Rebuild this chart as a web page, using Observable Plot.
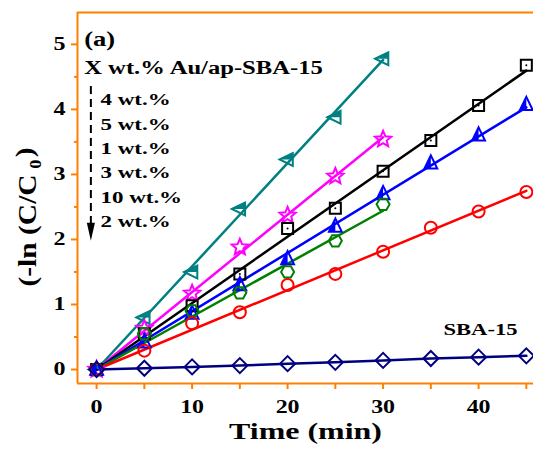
<!DOCTYPE html>
<html>
<head>
<meta charset="utf-8">
<script src="https://cdn.jsdelivr.net/npm/d3@7"></script>
<script src="https://cdn.jsdelivr.net/npm/@observablehq/plot@0.6"></script>
<style>
  body { margin: 0; background: white; }
</style>
</head>
<body>
<div id="chart"></div>
<script>
// ---- data ----
const times = [0, 5, 10, 15, 20, 25, 30, 35, 40, 45];
const y4wt  = [0, 0.80, 1.50, 2.47, 3.23, 3.88, 4.78];
const y5wt  = [0, 0.63, 1.17, 1.88, 2.37, 2.97, 3.54];
const y1wt  = [0, 0.55, 0.98, 1.47, 2.17, 2.48, 3.05, 3.52, 4.06, 4.68];
const y3wt  = [0, 0.42, 0.86, 1.30, 1.70, 2.20, 2.70, 3.17, 3.60, 4.07];
const y10wt = [0, 0.55, 0.90, 1.18, 1.50, 1.98, 2.54];
const y2wt  = [0, 0.29, 0.71, 0.88, 1.30, 1.47, 1.81, 2.18, 2.43, 2.73];
const ySBA  = [0, 0.02, 0.04, 0.06, 0.09, 0.11, 0.14, 0.17, 0.19, 0.21];
const legendLabels = ["4 wt.%", "5 wt.%", "1 wt.%", "3 wt.%", "10 wt.%", "2 wt.%"];
const xTicks = [0, 5, 10, 15, 20, 25, 30, 35, 40, 45];
const yTicks = [0, 1, 2, 3, 4, 5];
const yMinor = [0.5, 1.5, 2.5, 3.5, 4.5];

// ---- styling / layout ----
const orange = "#ff8000";
const xDomain = [-2, 45.75];
const yDomain = [-0.215, 5.49];
const font = "'Liberation Serif', 'Times New Roman', serif";

const sym = fn => ({draw(ctx, size) { const r = Math.sqrt(size / Math.PI); fn(ctx, r); }});
const poly = (ctx, pts) => { ctx.moveTo(pts[0][0], pts[0][1]); for (const p of pts.slice(1)) ctx.lineTo(p[0], p[1]); ctx.closePath(); };
const squareSym = sym((c, r) => poly(c, [[-r,-r],[r,-r],[r,r],[-r,r]]));
const diamondSym = sym((c, r) => poly(c, [[0,-r],[r,0],[0,r],[-r,0]]));
const upTri = sym((c, r) => poly(c, [[0,-r],[0.8*r,0.65*r],[-0.8*r,0.65*r]]));
const upTriHalf = sym((c, r) => poly(c, [[0,-r],[0,0.65*r],[-0.8*r,0.65*r]]));
const leftTri = sym((c, r) => poly(c, [[-r,0],[0.65*r,-0.8*r],[0.65*r,0.8*r]]));
const leftTriHalf = sym((c, r) => poly(c, [[-r,0],[0.65*r,-0.8*r],[0.65*r,0]]));
const downArrow = sym((c, r) => poly(c, [[0,r],[-0.45*r,-r],[0.45*r,-r]]));
const starSym = sym((c, r) => { const pts = []; for (let i = 0; i < 10; i++) { const a = -Math.PI/2 + i*Math.PI/5; const rr = i % 2 ? 0.45*r : r; pts.push([rr*Math.cos(a), rr*Math.sin(a)]); } poly(c, pts); });
const hexSym = sym((c, r) => { const pts = []; for (let i = 0; i < 6; i++) { const a = i*Math.PI/3; pts.push([r*Math.cos(a), r*Math.sin(a)]); } poly(c, pts); });

const series = [
  {name: "4 wt.%", ys: y4wt, color: "#008080", symbol: leftTri, half: leftTriHalf, r: 8},
  {name: "5 wt.%", ys: y5wt, color: "#ff00ff", symbol: starSym, r: 8.5},
  {name: "1 wt.%", ys: y1wt, color: "#000000", symbol: squareSym, r: 5.5, dotCenter: true},
  {name: "3 wt.%", ys: y3wt, color: "#0000ff", symbol: upTri, half: upTriHalf, r: 8},
  {name: "10 wt.%", ys: y10wt, color: "#008000", symbol: hexSym, r: 6.5},
  {name: "2 wt.%", ys: y2wt, color: "#ff0000", symbol: "circle", r: 6}
];

const pts = s => s.ys.map((y, i) => ({x: times[i], y}));
// least-squares line through the origin
const fit = s => {
  const p = pts(s);
  const k = d3.sum(p, d => d.x * d.y) / d3.sum(p, d => d.x * d.x);
  const xm = d3.max(p, d => d.x);
  return [{x: 0, y: 0}, {x: xm, y: k * xm}];
};
const sbaPts = ySBA.map((y, i) => ({x: times[i], y}));

const marks = [
  // frame sides
  Plot.ruleX([xDomain[0]], {stroke: orange, strokeWidth: 2}),
  Plot.ruleY([yDomain[0]], {stroke: orange, strokeWidth: 2}),
  Plot.ruleY([yDomain[1]], {stroke: orange, strokeWidth: 2}),
  // axes
  Plot.axisX({ticks: xTicks, tickSize: 6, tickPadding: 11, tickFormat: d => d % 10 ? "" : d,
    stroke: orange, strokeWidth: 2, fill: "black", fontSize: 18, fontWeight: "bold", label: null}),
  Plot.axisY({ticks: yTicks, tickSize: 6, tickPadding: 6, tickFormat: d => d,
    stroke: orange, strokeWidth: 2, fill: "black", fontSize: 18, fontWeight: "bold", label: null}),
  Plot.axisY({ticks: yMinor, tickSize: 3, tickFormat: () => "", stroke: orange, strokeWidth: 2, label: null}),
];

for (const s of series) {
  marks.push(Plot.line(fit(s), {x: "x", y: "y", stroke: s.color, strokeWidth: 2.5}));
}
marks.push(Plot.line(sbaPts, {x: "x", y: "y", stroke: "#000080", strokeWidth: 2.5}));
for (const s of series) {
  marks.push(Plot.dot(pts(s), {x: "x", y: "y", symbol: s.symbol, r: s.r, stroke: s.color, strokeWidth: 2, fill: "none"}));
  if (s.half) marks.push(Plot.dot(pts(s), {x: "x", y: "y", symbol: s.half, r: s.r, fill: s.color}));
  if (s.dotCenter) marks.push(Plot.dot(pts(s), {x: "x", y: "y", r: 1, fill: s.color}));
}
marks.push(Plot.dot(sbaPts, {x: "x", y: "y", symbol: diamondSym, r: 7.5, stroke: "#000080", strokeWidth: 2, fill: "none"}));

// annotations
marks.push(
  Plot.text(["(a)"], {x: -1.3, y: 5.08, text: d => d, textAnchor: "start", fontSize: 20, fontWeight: "bold"}),
  Plot.text(["X wt.% Au/ap-SBA-15"], {x: -1.3, y: 4.63, text: d => d, textAnchor: "start", fontSize: 18.5, fontWeight: "bold"}),
  Plot.text(legendLabels, {x: 0.4, y: (d, i) => 4.15 - i * 0.375, text: d => d, textAnchor: "start", fontSize: 17.3, fontWeight: "bold"}),
  Plot.text(["SBA-15"], {x: 40.2, y: 0.615, text: d => d, fontSize: 17, fontWeight: "bold"}),
  Plot.text(["Time (min)"], {frameAnchor: "bottom", dy: 55, text: d => d, fontSize: 24, fontWeight: "bold"}),
  Plot.link([0], {x1: -0.6, x2: -0.6, y1: 4.36, y2: 2.25, stroke: "black", strokeWidth: 2, strokeDasharray: "8,5"}),
  Plot.dot([0], {x: -0.6, y: 2.12, symbol: downArrow, r: 9, fill: "black"})
);

const chart = Plot.plot({
  width: 533,
  height: 453,
  marginLeft: 77,
  marginRight: 0,
  marginTop: 12,
  marginBottom: 70,
  x: {domain: xDomain},
  y: {domain: yDomain},
  style: {fontFamily: font, fontWeight: "bold", background: "white", color: "black", overflow: "visible"},
  marks
});
document.getElementById("chart").appendChild(chart);

// y-axis title with subscript
const svg = d3.select(chart);
const yl = svg.append("text")
  .attr("transform", "translate(36,217) rotate(-90)")
  .attr("text-anchor", "middle")
  .attr("font-size", 26)
  .attr("font-weight", "bold")
  .attr("font-family", font)
  .attr("fill", "black");
yl.append("tspan").text("(-ln (C/C");
yl.append("tspan").attr("dy", "0.3em").attr("dx", "5").attr("font-size", "0.62em").text("0");
yl.append("tspan").attr("dy", "-0.3em").attr("dx", "2").text(")");
yl.attr("textLength", 139).attr("lengthAdjust", "spacingAndGlyphs");
yl.attr("class", "ylabel");

// the reference is horizontally stretched: widen the horizontal text
chart.querySelectorAll("text").forEach(t => {
  if (t.classList.contains("ylabel")) return;
  const len = t.getComputedTextLength();
  if (len > 0) {
    t.setAttribute("textLength", (len * 1.33).toFixed(1));
    t.setAttribute("lengthAdjust", "spacingAndGlyphs");
  }
});
</script>
</body>
</html>
